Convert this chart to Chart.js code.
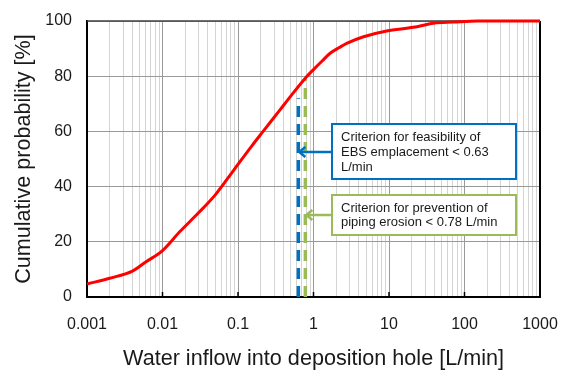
<!DOCTYPE html>
<html>
<head>
<meta charset="utf-8">
<script src="https://cdn.jsdelivr.net/npm/chart.js@4.4.0/dist/chart.umd.min.js"></script>
<style>
  html, body { margin: 0; padding: 0; background: #fff; }
</style>
</head>
<body>
<canvas id="myChart" width="561" height="370"></canvas>
<script>
// cumulative distribution of inflow
const flowRates = [0.001, 0.002, 0.004, 0.006, 0.01, 0.017, 0.03, 0.05, 0.088, 0.15, 0.215, 0.36, 0.5, 0.81, 1.0, 1.3, 1.66, 2.2, 2.75, 4.6, 9.3, 21, 39, 71, 150, 1000];
const cumProbability = [4.7, 6.8, 9.4, 12.7, 16.8, 23.7, 30.5, 37, 46, 54.5, 60, 67.8, 72.8, 79.8, 82.4, 85.5, 88.3, 90.4, 91.9, 94.3, 96.4, 97.7, 99.2, 99.6, 100, 100];

const decadeLabels = ['0.001', '0.01', '0.1', '1', '10', '100', '1000'];
const yTickStep = 20;

// criteria lines
const ebsLimit = 0.63, ebsTop = 72;
const pipingLimit = 0.78, pipingTop = 79;
const ebsNote = ['Criterion for feasibility of', 'EBS emplacement < 0.63', 'L/min'];
const pipingNote = ['Criterion for prevention of', 'piping erosion < 0.78 L/min'];

const decades = decadeLabels.map(Number);
// grid positions 1..9 per decade
let gridValues = [];
for (let i = 0; i < decades.length - 1; i++) {
    for (let k = 1; k <= 9; k++) gridValues.push(+(k * decades[i]).toPrecision(3));
}
gridValues.push(decades[decades.length - 1]);
const isDecade = v => decades.some(d => Math.abs(d - v) / d < 1e-6);

const BLUE = '#0070C0';
const GREEN = '#9BBB59';
const FONT = '"Liberation Sans", Arial, sans-serif';

const frame = {
    id: 'frame',
    beforeDatasetsDraw(chart) {
        const {ctx, chartArea: a} = chart;
        ctx.save();
        ctx.lineWidth = 1.5;
        ctx.strokeStyle = '#404040';
        ctx.beginPath();
        ctx.moveTo(a.left, a.top); ctx.lineTo(a.right, a.top);
        ctx.stroke();
        ctx.strokeStyle = '#000';
        ctx.lineWidth = 2;
        ctx.beginPath();
        ctx.moveTo(a.right, a.top); ctx.lineTo(a.right, a.bottom);
        ctx.stroke();
        // small inward ticks at each decade
        ctx.lineWidth = 1.5;
        decades.forEach(d => {
            const px = chart.scales.x.getPixelForValue(d);
            ctx.beginPath();
            ctx.moveTo(px, a.bottom); ctx.lineTo(px, a.bottom - 5);
            ctx.stroke();
        });
        ctx.restore();
    }
};

function drawNote(ctx, box, color, lines, lineY0, lineGap, arrowY, tipX) {
    ctx.save();
    ctx.fillStyle = '#fff';
    ctx.fillRect(box.x, box.y, box.w, box.h);
    ctx.strokeStyle = color;
    ctx.lineWidth = 2;
    ctx.strokeRect(box.x, box.y, box.w, box.h);
    ctx.fillStyle = '#1a1a1a';
    ctx.font = '13px ' + FONT;
    ctx.textAlign = 'left';
    ctx.textBaseline = 'middle';
    lines.forEach((t, i) => ctx.fillText(t, box.x + 9, lineY0 + i * lineGap));
    // arrow
    ctx.lineWidth = 2.5;
    ctx.beginPath();
    ctx.moveTo(box.x, arrowY);
    ctx.lineTo(tipX + 1, arrowY);
    ctx.stroke();
    ctx.beginPath();
    ctx.moveTo(tipX + 7, arrowY - 5);
    ctx.lineTo(tipX + 1, arrowY);
    ctx.lineTo(tipX + 7, arrowY + 5);
    ctx.stroke();
    ctx.restore();
}

const notes = {
    id: 'notes',
    afterDatasetsDraw(chart) {
        const ctx = chart.ctx;
        const xs = chart.scales.x;
        drawNote(ctx, {x: 332, y: 124, w: 184, h: 55}, BLUE, ebsNote, 137, 15, 152, xs.getPixelForValue(ebsLimit));
        drawNote(ctx, {x: 332, y: 195, w: 184, h: 40}, GREEN, pipingNote, 208, 14, 215, xs.getPixelForValue(pipingLimit));
    }
};

const config = {
    type: 'line',
    data: {
        datasets: [
            {
                data: flowRates.map((x, i) => ({x: x, y: cumProbability[i]})),
                borderColor: '#FF0000',
                borderWidth: 3,
                pointRadius: 0,
                cubicInterpolationMode: 'monotone',
                clip: 4,
                order: 0
            },
            {
                data: [{x: ebsLimit, y: 0}, {x: ebsLimit, y: ebsTop}],
                borderColor: BLUE,
                borderWidth: 3.5,
                borderDash: [11, 7],
                pointRadius: 0,
                order: 2
            },
            {
                data: [{x: pipingLimit, y: 0}, {x: pipingLimit, y: pipingTop}],
                borderColor: GREEN,
                borderWidth: 3.5,
                borderDash: [11, 7],
                pointRadius: 0,
                order: 1
            }
        ]
    },
    options: {
        responsive: false,
        animation: false,
        layout: {padding: {left: 0, right: 21, top: 21, bottom: 0}},
        plugins: {legend: {display: false}, tooltip: {enabled: false}},
        scales: {
            x: {
                type: 'logarithmic',
                min: 0.001,
                max: 1000,
                afterBuildTicks(scale) {
                    scale.ticks = gridValues.map(v => ({value: v, major: isDecade(v)}));
                },
                afterFit(scale) {
                    scale.height = 73;
                    scale.paddingLeft = 0;
                    scale.paddingRight = 0;
                },
                ticks: {
                    autoSkip: false,
                    maxRotation: 0,
                    padding: 18,
                    color: '#1a1a1a',
                    font: {size: 16, family: FONT},
                    callback: (v) => isDecade(v) ? decadeLabels[decades.findIndex(d => Math.abs(d - v) / d < 1e-6)] : ''
                },
                grid: {
                    drawTicks: false,
                    color: (c) => (c.tick && c.tick.major) ? '#9a9a9a' : '#d4d4d4',
                    lineWidth: 1
                },
                border: {color: '#000', width: 2},
                title: {
                    display: true,
                    text: 'Water inflow into deposition hole [L/min]',
                    color: '#1a1a1a',
                    font: {size: 21.6, family: FONT, lineHeight: 1},
                    padding: {top: 0, bottom: 0}
                }
            },
            y: {
                min: 0,
                max: 100,
                afterFit(scale) {
                    scale.width = 87;
                    scale.paddingTop = 0;
                    scale.paddingBottom = 0;
                },
                ticks: {
                    stepSize: yTickStep,
                    padding: 15,
                    color: '#1a1a1a',
                    font: {size: 16, family: FONT}
                },
                grid: {drawTicks: false, color: '#9a9a9a', lineWidth: 1},
                border: {color: '#000', width: 2},
                title: {
                    display: true,
                    text: 'Cumulative probability [%]',
                    color: '#1a1a1a',
                    font: {size: 21.6, family: FONT, lineHeight: 1},
                    padding: {top: 13, bottom: 0}
                }
            }
        }
    },
    plugins: [frame, notes]
};

const myChart = new Chart(document.getElementById('myChart'), config);
</script>
</body>
</html>
